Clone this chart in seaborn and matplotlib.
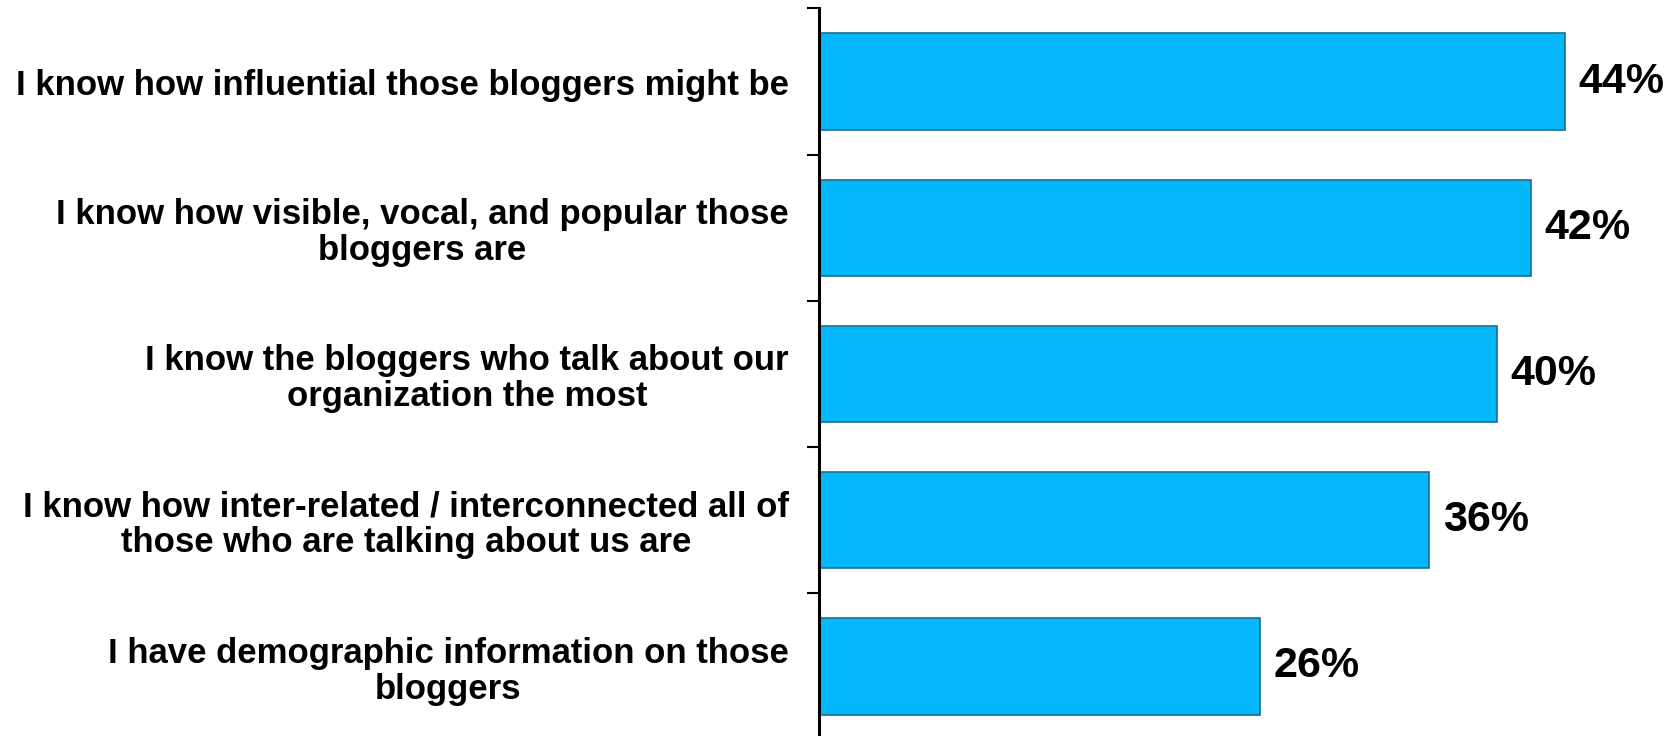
import matplotlib
matplotlib.use("Agg")
import matplotlib.pyplot as plt
import seaborn as sns
import pandas as pd
import numpy as np

categories = [
    "I know how influential those bloggers might be",
    "I know how visible, vocal, and popular those\nbloggers are",
    "I know the bloggers who talk about our\norganization the most",
    "I know how inter-related / interconnected all of\nthose who are talking about us are",
    "I have demographic information on those\nbloggers",
]
values = [44, 42, 40, 36, 26]
value_labels = ["44%", "42%", "40%", "36%", "26%"]

sns.set_theme(style="white")
plt.rcParams["font.family"] = ["Liberation Sans", "DejaVu Sans"]

df = pd.DataFrame({"category": categories, "value": values})

fig = plt.figure(figsize=(16.73, 7.36), dpi=100)
ax = fig.add_axes([0.4897, -0.0048, 0.5103, 0.9933])

sns.barplot(data=df, y="category", x="value", orient="h", color="#05B8FB",
            saturation=1, width=0.66, edgecolor="#1b6f8c", linewidth=1.2, ax=ax)

for c in ax.containers:
    ax.bar_label(c, labels=value_labels, padding=10, fontsize=31, fontweight="bold",
                 color="black")

ax.set_xlim(0, 50.4)
ax.set_ylim(4.5, -0.5)
ax.set_xlabel("")
ax.set_ylabel("")
ax.set_xticks([])

for s in ["top", "right", "bottom"]:
    ax.spines[s].set_visible(False)
ax.spines["left"].set_linewidth(2.2)
ax.spines["left"].set_color("black")

ax.tick_params(axis="y", which="major", length=0, pad=22, labelsize=25)
ax.set_yticks(np.arange(-0.5, len(categories) - 0.5, 1.0), minor=True)
ax.tick_params(axis="y", which="minor", length=8.5, width=1.5, color="black", direction="out", left=True)
for lbl in ax.get_yticklabels():
    lbl.set_fontweight("bold")
    lbl.set_multialignment("center")
    lbl.set_linespacing(1.1)
    lbl.set_color("black")

fig.savefig("out.png", dpi=100)
